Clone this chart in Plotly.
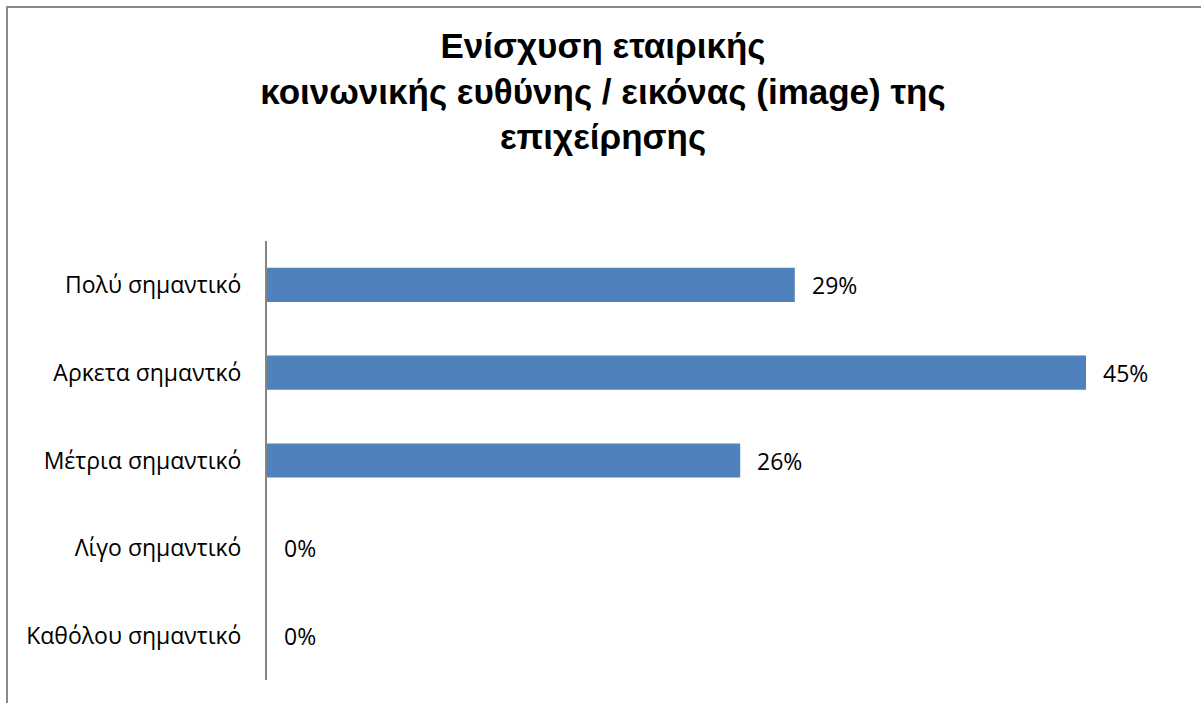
import plotly.graph_objects as go

categories = ["Πολύ σημαντικό", "Αρκετα σημαντκό", "Μέτρια σημαντικό", "Λίγο σημαντικό", "Καθόλου σημαντικό"]
values = [0.29, 0.45, 0.26, 0.0, 0.0]
value_labels = ["29%", "45%", "26%", "0%", "0%"]
title_text = "Ενίσχυση εταιρικής<br>κοινωνικής ευθύνης / εικόνας (image) της<br>επιχείρησης"

W, H = 1201, 703
L, R, T, B = 267, 24, 241, 23
pw, ph = W - L - R, H - T - B

fig = go.Figure()
fig.add_trace(go.Bar(
    y=categories, x=values, orientation="h",
    marker=dict(color="#4F81BD", line=dict(width=0)),
    width=0.39, hoverinfo="skip",
))

for c, v, t in zip(categories, values, value_labels):
    fig.add_annotation(x=v, y=c, xref="x", yref="y", text=t, showarrow=False,
                       xanchor="left", yanchor="middle", xshift=15,
                       font=dict(family="Open Sans", size=23, color="#000000"))

# chart border (left and top edges visible)
fig.add_shape(type="rect", xref="paper", yref="paper",
              x0=(7 - L) / pw, x1=(W + 20 - L) / pw,
              y0=(H - B - (H + 20)) / ph, y1=(H - B - 7) / ph,
              line=dict(color="#898989", width=2), fillcolor="rgba(0,0,0,0)", layer="below")

fig.update_layout(
    width=W, height=H,
    margin=dict(l=L, r=R, t=T, b=B, pad=0),
    paper_bgcolor="white", plot_bgcolor="white",
    showlegend=False,
    title=dict(text=title_text, x=603 / W, xref="container", xanchor="center",
               y=1 - 58 / H, yanchor="top", yref="container",
               font=dict(family="Liberation Sans", size=35, color="#000000", weight="bold")),
    xaxis=dict(range=[0, 0.5], visible=False, fixedrange=True),
    yaxis=dict(autorange="reversed", showline=True, linecolor="#868686", linewidth=2,
               showgrid=False, zeroline=False, ticks="", ticklabelstandoff=19,
               fixedrange=True,
               tickfont=dict(family="Open Sans", size=23, color="#000000")),
)

fig.write_html("out.html", config={"displayModeBar": False},
               post_script="document.body.style.margin='0';")
